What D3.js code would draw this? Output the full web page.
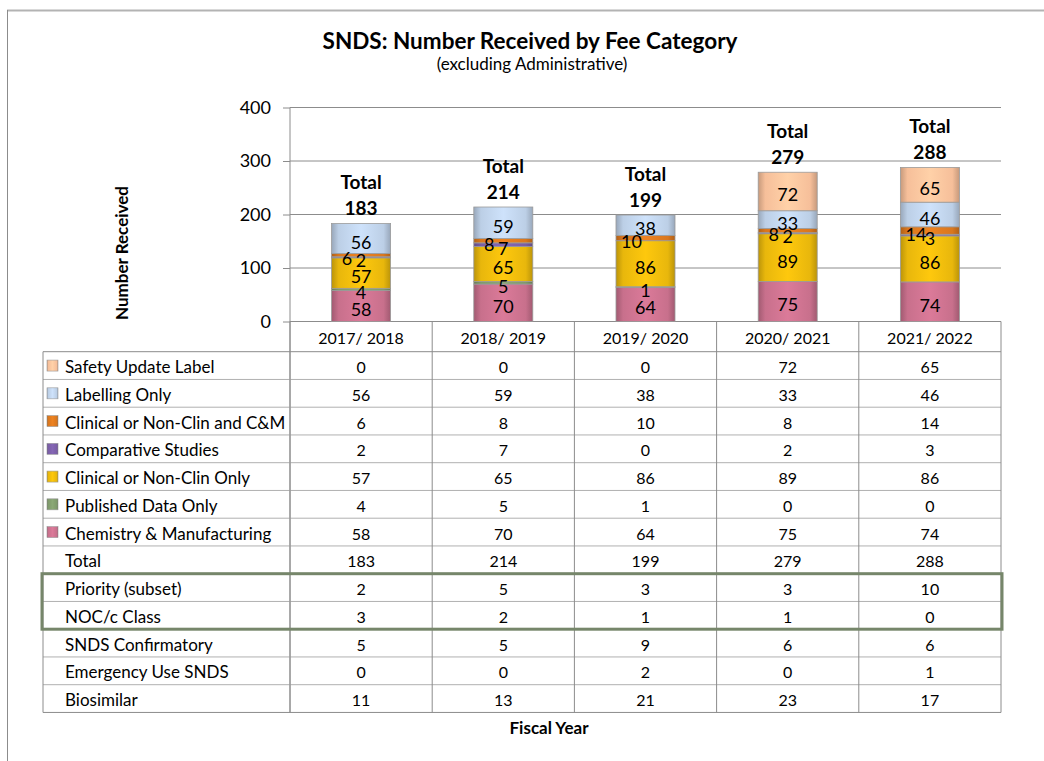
<!DOCTYPE html>
<html>
<head>
<meta charset="utf-8">
<script src="https://cdn.jsdelivr.net/npm/d3@7"></script>
<style>
body { margin: 0; background: #fff; }
text { font-family: Lato, "Noto Sans", sans-serif; fill: #000; }
</style>
</head>
<body>
<div id="chart"></div>
<script>
// data
const years = ['2017/ 2018', '2018/ 2019', '2019/ 2020', '2020/ 2021', '2021/ 2022'];
const seriesNames = ['Chemistry & Manufacturing', 'Published Data Only', 'Clinical or Non-Clin Only',
  'Comparative Studies', 'Clinical or Non-Clin and C&M', 'Labelling Only', 'Safety Update Label'];
const chemistry = [58, 70, 64, 75, 74];
const published = [4, 5, 1, 0, 0];
const clinicalOnly = [57, 65, 86, 89, 86];
const comparative = [2, 7, 0, 2, 3];
const clinicalCM = [6, 8, 10, 8, 14];
const labelling = [56, 59, 38, 33, 46];
const safety = [0, 0, 0, 72, 65];
const totals = [183, 214, 199, 279, 288];
const priority = [2, 5, 3, 3, 10];
const nocClass = [3, 2, 1, 1, 0];
const confirmatory = [5, 5, 9, 6, 6];
const emergency = [0, 0, 2, 0, 1];
const biosimilar = [11, 13, 21, 23, 17];
const yTicks = [0, 100, 200, 300, 400];

const seriesValues = [chemistry, published, clinicalOnly, comparative, clinicalCM, labelling, safety];
const colors = {
  'Chemistry & Manufacturing': '#c8708c',
  'Published Data Only': '#7f9a6c',
  'Clinical or Non-Clin Only': '#e8b70c',
  'Comparative Studies': '#7a5ea6',
  'Clinical or Non-Clin and C&M': '#d9771e',
  'Labelling Only': '#bccfe6',
  'Safety Update Label': '#f6bf9a'
};

const width = 1044;
const height = 761;
const plot = { left: 290, right: 1001, top: 107.5, bottom: 321.5 };
const table = { left: 43, top: 351.7, rowH: 27.75 };

const svg = d3.select('div#chart').append('svg').attr('width', width).attr('height', height);
const defs = svg.append('defs');

// bevel-ish gradients like the excel bars
seriesNames.forEach((name, i) => {
  const c = d3.color(colors[name]);
  const g = defs.append('linearGradient').attr('id', `grad${i}`).attr('x1', 0).attr('x2', 1).attr('y1', 0).attr('y2', 0);
  g.append('stop').attr('offset', '0%').attr('stop-color', c.darker(0.6));
  g.append('stop').attr('offset', '12%').attr('stop-color', c);
  g.append('stop').attr('offset', '50%').attr('stop-color', c.brighter(0.25));
  g.append('stop').attr('offset', '88%').attr('stop-color', c);
  g.append('stop').attr('offset', '100%').attr('stop-color', c.darker(0.6));
});

// outer frame
svg.append('line').attr('x1', 7).attr('x2', width).attr('y1', 10.5).attr('y2', 10.5).attr('stroke', '#b3b3b3').attr('stroke-width', 2);
svg.append('line').attr('x1', 7.5).attr('x2', 7.5).attr('y1', 10).attr('y2', height).attr('stroke', '#8c8c8c').attr('stroke-width', 1);

// titles
svg.append('text').attr('x', 530).attr('y', 40).attr('text-anchor', 'middle').attr('dominant-baseline', 'central')
  .style('font-size', '22.5px').style('font-weight', 'bold').text('SNDS: Number Received by Fee Category');
svg.append('text').attr('x', 532).attr('y', 63).attr('text-anchor', 'middle').attr('dominant-baseline', 'central')
  .style('font-size', '17px').text('(excluding Administrative)');
svg.append('text').attr('transform', `translate(121,253) rotate(-90)`).attr('text-anchor', 'middle').attr('dominant-baseline', 'central')
  .style('font-size', '17px').style('font-weight', 'bold').text('Number Received');
svg.append('text').attr('x', 549).attr('y', 727).attr('text-anchor', 'middle').attr('dominant-baseline', 'central')
  .style('font-size', '17px').style('font-weight', 'bold').text('Fiscal Year');

const x = d3.scaleBand().domain(years).range([plot.left, plot.right]);
const y = d3.scaleLinear().domain([0, 400]).range([plot.bottom, plot.top]);
const barW = x.bandwidth() * 0.415;

// gridlines
svg.append('g').selectAll('line').data(yTicks).join('line')
  .attr('x1', plot.left).attr('x2', plot.right)
  .attr('y1', d => y(d)).attr('y2', d => y(d))
  .attr('stroke', '#8c8c8c').attr('stroke-width', 1);

// y axis
const yAxisGroup = svg.append('g').attr('transform', `translate(${plot.left},0)`)
  .call(d3.axisLeft(y).tickValues(yTicks).tickSize(7).tickPadding(12));
yAxisGroup.select('.domain').remove();
yAxisGroup.selectAll('.tick line').attr('stroke', '#8c8c8c');
yAxisGroup.selectAll('.tick text').style('font-size', '18px').style('font-family', 'Lato, "Noto Sans", sans-serif').attr('fill', '#000');
svg.append('line').attr('x1', plot.left).attr('x2', plot.left).attr('y1', plot.top).attr('y2', table.top + 13 * table.rowH)
  .attr('stroke', '#8c8c8c');

// stacked bars
const rows = years.map((yr, j) => {
  const r = { year: yr };
  seriesNames.forEach((n, i) => { r[n] = seriesValues[i][j]; });
  return r;
});
const stacked = d3.stack().keys(seriesNames)(rows);

const barGroup = svg.append('g');
stacked.forEach((s, i) => {
  barGroup.append('g').selectAll('rect').data(s.filter(d => d[1] - d[0] > 0)).join('rect')
    .attr('x', d => x(d.data.year) + (x.bandwidth() - barW) / 2)
    .attr('y', d => y(d[1]))
    .attr('width', barW)
    .attr('height', d => y(d[0]) - y(d[1]))
    .attr('fill', `url(#grad${i})`)
    .attr('stroke', '#9a9a9a').attr('stroke-width', 0.8);
});

// data labels
const labelGroup = svg.append('g');
stacked.forEach((s, i) => {
  const dx = s.key === 'Clinical or Non-Clin and C&M' ? -14 : 0;
  labelGroup.append('g').selectAll('text').data(s.filter(d => d[1] - d[0] > 0)).join('text')
    .attr('x', d => x(d.data.year) + x.bandwidth() / 2 + dx)
    .attr('y', d => (y(d[0]) + y(d[1])) / 2 + 3)
    .attr('text-anchor', 'middle').attr('dominant-baseline', 'central')
    .style('font-size', '18px')
    .text(d => d[1] - d[0]);
});

// totals above bars
const totalGroup = svg.append('g').selectAll('g').data(years).join('g')
  .attr('transform', (d, j) => `translate(${x(d) + x.bandwidth() / 2},${y(totals[j]) - 16})`);
totalGroup.append('text').attr('y', -26).attr('text-anchor', 'middle').attr('dominant-baseline', 'central')
  .style('font-size', '19px').style('font-weight', 'bold').text('Total');
totalGroup.append('text').attr('y', 0).attr('text-anchor', 'middle').attr('dominant-baseline', 'central')
  .style('font-size', '19px').style('font-weight', 'bold').text((d, j) => totals[j]);

// data table
const tableRows = [
  { name: 'Safety Update Label', values: safety, key: 6 },
  { name: 'Labelling Only', values: labelling, key: 5 },
  { name: 'Clinical or Non-Clin and C&M', values: clinicalCM, key: 4 },
  { name: 'Comparative Studies', values: comparative, key: 3 },
  { name: 'Clinical or Non-Clin Only', values: clinicalOnly, key: 2 },
  { name: 'Published Data Only', values: published, key: 1 },
  { name: 'Chemistry & Manufacturing', values: chemistry, key: 0 },
  { name: 'Total', values: totals },
  { name: 'Priority (subset)', values: priority },
  { name: 'NOC/c Class', values: nocClass },
  { name: 'SNDS Confirmatory', values: confirmatory },
  { name: 'Emergency Use SNDS', values: emergency },
  { name: 'Biosimilar', values: biosimilar }
];
const tableBottom = table.top + tableRows.length * table.rowH;
const tableGroup = svg.append('g');

// header: year labels
tableGroup.selectAll('text.year').data(years).join('text').attr('class', 'year')
  .attr('x', d => x(d) + x.bandwidth() / 2).attr('y', (plot.bottom + table.top) / 2 + 1)
  .attr('text-anchor', 'middle').attr('dominant-baseline', 'central')
  .style('font-size', '16px').text(d => d);

// horizontal rules
tableGroup.selectAll('line.h').data(d3.range(tableRows.length + 1)).join('line').attr('class', 'h')
  .attr('x1', table.left).attr('x2', plot.right)
  .attr('y1', i => table.top + i * table.rowH).attr('y2', i => table.top + i * table.rowH)
  .attr('stroke', i => (i === 0 || i === tableRows.length) ? '#8c8c8c' : '#b0b0b0');

// vertical rules
const vx = years.map(d => x(d) + x.bandwidth()).concat([plot.left]);
tableGroup.selectAll('line.v').data(vx).join('line').attr('class', 'v')
  .attr('x1', d => d).attr('x2', d => d).attr('y1', plot.bottom).attr('y2', tableBottom)
  .attr('stroke', '#8c8c8c');
tableGroup.append('line').attr('x1', table.left).attr('x2', table.left).attr('y1', table.top).attr('y2', tableBottom)
  .attr('stroke', '#8c8c8c');

const rowG = tableGroup.selectAll('g.row').data(tableRows).join('g').attr('class', 'row')
  .attr('transform', (d, i) => `translate(0,${table.top + i * table.rowH + table.rowH / 2})`);
rowG.append('text').attr('x', 65).attr('y', 1).attr('dominant-baseline', 'central')
  .style('font-size', '17px').text(d => d.name);
rowG.filter(d => d.key !== undefined).append('rect')
  .attr('x', 47).attr('y', -5.5).attr('width', 11).attr('height', 11)
  .attr('fill', d => `url(#grad${d.key})`).attr('stroke', '#9a9a9a').attr('stroke-width', 0.6);
rowG.selectAll('text.val').data(d => d.values).join('text').attr('class', 'val')
  .attr('x', (v, j) => x(years[j]) + x.bandwidth() / 2).attr('y', 1)
  .attr('text-anchor', 'middle').attr('dominant-baseline', 'central')
  .style('font-size', '16px').text(v => v);

// green highlight box round priority / NOC rows
tableGroup.append('rect')
  .attr('x', table.left - 1).attr('y', table.top + 8 * table.rowH)
  .attr('width', plot.right - table.left + 2).attr('height', 2 * table.rowH)
  .attr('fill', 'none').attr('stroke', '#76866a').attr('stroke-width', 3);
</script>
</body>
</html>
